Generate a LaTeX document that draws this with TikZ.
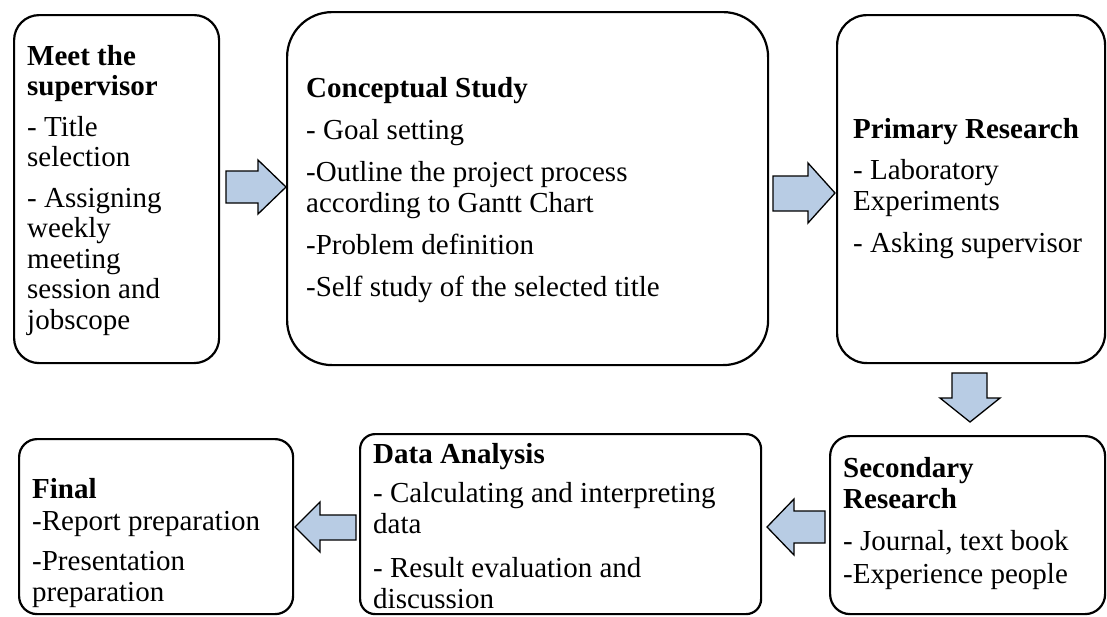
\documentclass[tikz,border=0pt]{standalone}
\usepackage{fontspec}
\setmainfont{Liberation Serif}
\definecolor{arrowfill}{HTML}{B8CCE4}
\newcommand{\myline}[1]{\hbox{#1}}
\newcommand{\mygap}[1]{\vskip #1}
\tikzset{
  box/.style={draw=black, line width=2.2pt, inner sep=0pt, anchor=north west},
  txt/.style={anchor=base west, inner sep=0pt, font=\fontsize{29}{31}\selectfont},
  blockarrow/.style={draw=black, line width=1.3pt, fill=arrowfill, line join=miter},
}
\begin{document}
\begin{tikzpicture}[x=1pt,y=-1pt]
\useasboundingbox (0,0) rectangle (1107,616);
% boxes
\node[box, rounded corners=25pt, minimum width=205pt, minimum height=348pt] (b1) at (13,14) {};
\node[box, rounded corners=45pt, minimum width=481pt, minimum height=353pt] (b2) at (286,11) {};
\node[box, rounded corners=30pt, minimum width=268pt, minimum height=348pt] (b3) at (836,14) {};
\node[box, rounded corners=20pt, minimum width=275pt, minimum height=178pt] (b4) at (829,435) {};
\node[box, rounded corners=15pt, minimum width=401pt, minimum height=180pt] (b5) at (359,433) {};
\node[box, rounded corners=18pt, minimum width=274pt, minimum height=175pt] (b6) at (18,438) {};
% texts
\node[txt] (t1) at (27,65) {\vtop{\baselineskip=30.5pt
  \myline{\bfseries Meet the}\myline{\bfseries supervisor}\mygap{10pt}
  \myline{- Title}\myline{selection}\mygap{10pt}
  \myline{- Assigning}\myline{weekly}\myline{meeting}\myline{session and}\myline{jobscope}}};
\node[txt] (t2) at (306,97) {\vtop{\baselineskip=31pt
  \myline{\bfseries Conceptual Study}\mygap{11pt}
  \myline{- Goal setting}\mygap{11pt}
  \myline{-Outline the project process}\myline{according to Gantt Chart}\mygap{11pt}
  \myline{-Problem definition}\mygap{11pt}
  \myline{-Self study of the selected title}}};
\node[txt] (t3) at (853,138) {\vtop{\baselineskip=30.5pt
  \myline{\bfseries Primary Research}\mygap{11pt}
  \myline{- Laboratory}\myline{Experiments}\mygap{12pt}
  \myline{- Asking supervisor}}};
\node[txt] (t4) at (843,477) {\vtop{\baselineskip=31pt
  \myline{\bfseries Secondary}\myline{\bfseries Research}\mygap{11pt}
  \myline{- Journal, text book}\mygap{2pt}
  \myline{-Experience people}}};
\node[txt] (t5) at (373,463) {\vtop{\baselineskip=31pt
  \myline{\bfseries Data Analysis}\mygap{8pt}
  \myline{- Calculating and interpreting}\myline{data}\mygap{13pt}
  \myline{- Result evaluation and}\myline{discussion}}};
\node[txt] (t6) at (32,498) {\vtop{\baselineskip=31pt
  \myline{\bfseries Final}\mygap{1pt}
  \myline{-Report preparation}\mygap{9pt}
  \myline{-Presentation}\myline{preparation}}};
% block arrows
\draw[blockarrow] (226,171) -- (258,171) -- (258,160) -- (286,187) -- (258,214) -- (258,203) -- (226,203) -- cycle;
\draw[blockarrow] (773,176) -- (808,176) -- (808,163) -- (835,193) -- (808,223) -- (808,211) -- (773,211) -- cycle;
\draw[blockarrow] (952,373) -- (987,373) -- (987,398) -- (1000,398) -- (970,422) -- (940,398) -- (952,398) -- cycle;
\draw[blockarrow] (825,511) -- (794,511) -- (794,499) -- (767,527) -- (794,555) -- (794,543) -- (825,543) -- cycle;
\draw[blockarrow] (356,515) -- (320,515) -- (320,502) -- (295,527) -- (320,552) -- (320,540) -- (356,540) -- cycle;
\end{tikzpicture}
\end{document}
